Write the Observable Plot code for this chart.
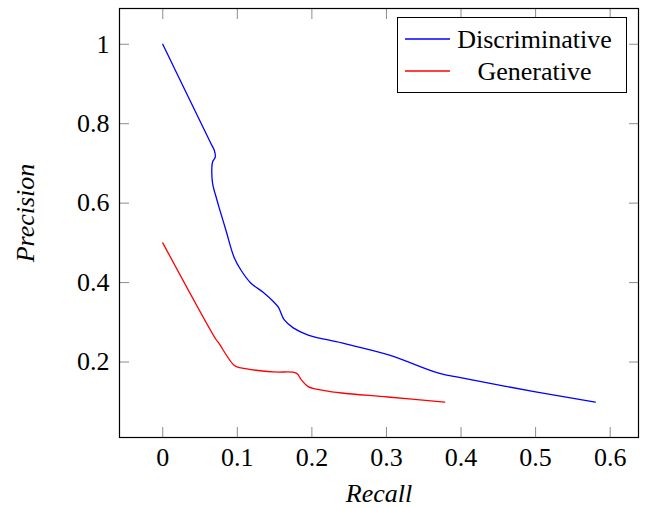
<!DOCTYPE html>
<html>
<head>
<meta charset="utf-8">
<script src="https://cdn.jsdelivr.net/npm/d3@7"></script>
<script src="https://cdn.jsdelivr.net/npm/@observablehq/plot@0.6"></script>
<style>
  html, body { margin: 0; padding: 0; background: #fff; }
  #chart svg { display: block; }
</style>
</head>
<body>
<div id="chart"></div>
<script>
// ---- data ----
const discRecall = [0, 0.0602, 0.0646, 0.0691, 0.0704, 0.0669, 0.0659, 0.0669, 0.0727, 0.0754, 0.085, 0.0956, 0.105, 0.118, 0.135, 0.149, 0.155, 0.163, 0.175, 0.195, 0.24, 0.303, 0.37, 0.401, 0.5, 0.58];
const discPrecision = [1.0, 0.767, 0.750, 0.733, 0.716, 0.704, 0.691, 0.649, 0.608, 0.590, 0.53, 0.464, 0.431, 0.399, 0.375, 0.351, 0.338, 0.306, 0.286, 0.268, 0.248, 0.218, 0.172, 0.160, 0.125, 0.099];
const genRecall = [0, 0.071, 0.075, 0.0956, 0.105, 0.149, 0.179, 0.186, 0.195, 0.217, 0.24, 0.302, 0.378];
const genPrecision = [0.50, 0.258, 0.248, 0.192, 0.185, 0.175, 0.172, 0.155, 0.138, 0.128, 0.122, 0.112, 0.099];
const seriesNames = ["Discriminative", "Generative"];
const seriesColors = ["#0000ff", "#ff0000"];
const xTicks = [0, 0.1, 0.2, 0.3, 0.4, 0.5, 0.6];
const xTickLabels = ["0", "0.1", "0.2", "0.3", "0.4", "0.5", "0.6"];
const yTicks = [0.2, 0.4, 0.6, 0.8, 1];
const yTickLabels = ["0.2", "0.4", "0.6", "0.8", "1"];
const xLabel = "Recall";
const yLabel = "Precision";

const disc = discRecall.map((r, i) => ({recall: r, precision: discPrecision[i]}));
const gen = genRecall.map((r, i) => ({recall: r, precision: genPrecision[i]}));

const font = "'Liberation Serif', 'Times New Roman', serif";
const tickGray = "#8c8c8c";

const chart = Plot.plot({
  width: 652,
  height: 508,
  marginLeft: 119,
  marginRight: 14,
  marginTop: 8,
  marginBottom: 71,
  style: {fontFamily: font, fontSize: "26px", background: "#fff"},
  x: {domain: [-0.058, 0.638]},
  y: {domain: [0.01, 1.09]},
  marks: [
    // inner ticks on all four sides
    Plot.axisX(xTicks, {anchor: "bottom", tickSize: -10, tickFormat: () => "", label: null, stroke: tickGray}),
    Plot.axisX(xTicks, {anchor: "top", tickSize: -10, tickFormat: () => "", label: null, stroke: tickGray}),
    Plot.axisY(yTicks, {anchor: "left", tickSize: -10, tickFormat: () => "", label: null, stroke: tickGray}),
    Plot.axisY(yTicks, {anchor: "right", tickSize: -10, tickFormat: () => "", label: null, stroke: tickGray}),
    // tick labels
    Plot.axisX(xTicks, {anchor: "bottom", tickSize: 0, tickPadding: 10, tickFormat: d => xTickLabels[xTicks.indexOf(d)], label: null, fontSize: 26, fill: "#000"}),
    Plot.axisY(yTicks, {anchor: "left", tickSize: 0, tickPadding: 10, tickFormat: d => yTickLabels[yTicks.indexOf(d)], label: null, fontSize: 26, fill: "#000"}),
    // series
    Plot.line(disc, {x: "recall", y: "precision", stroke: seriesColors[0], strokeWidth: 1.3, curve: "catmull-rom"}),
    Plot.line(gen, {x: "recall", y: "precision", stroke: seriesColors[1], strokeWidth: 1.3, curve: "catmull-rom"}),
    Plot.frame({stroke: "#000", strokeWidth: 1.2}),
    // axis titles
    Plot.text([xLabel], {frameAnchor: "bottom", dy: 56, text: d => d, textAnchor: "middle", lineAnchor: "middle", fontSize: 26, fontStyle: "italic", fill: "#000", letterSpacing: "0.5px"}),
    Plot.text([yLabel], {frameAnchor: "left", dx: -94, dy: -10, rotate: -90, text: d => d, textAnchor: "middle", lineAnchor: "middle", fontSize: 26, fontStyle: "italic", fill: "#000", letterSpacing: "3px"})
  ]
});

document.getElementById("chart").appendChild(chart);

// legend (box in the upper right of the plot area)
const svg = d3.select(chart);
const lg = svg.append("g").attr("font-family", font).attr("font-size", 26);
lg.append("rect").attr("x", 397.5).attr("y", 17.5).attr("width", 229).attr("height", 75)
  .attr("fill", "#fff").attr("stroke", "#000").attr("stroke-width", 1);
const rowsY = [39, 71];
seriesNames.forEach((name, i) => {
  lg.append("line").attr("x1", 405).attr("x2", 450).attr("y1", rowsY[i]).attr("y2", rowsY[i])
    .attr("stroke", seriesColors[i]).attr("stroke-width", 1.3);
  lg.append("text").attr("x", 534.5).attr("y", rowsY[i]).attr("dy", "0.34em")
    .attr("text-anchor", "middle").attr("fill", "#000").text(name);
});
</script>
</body>
</html>
